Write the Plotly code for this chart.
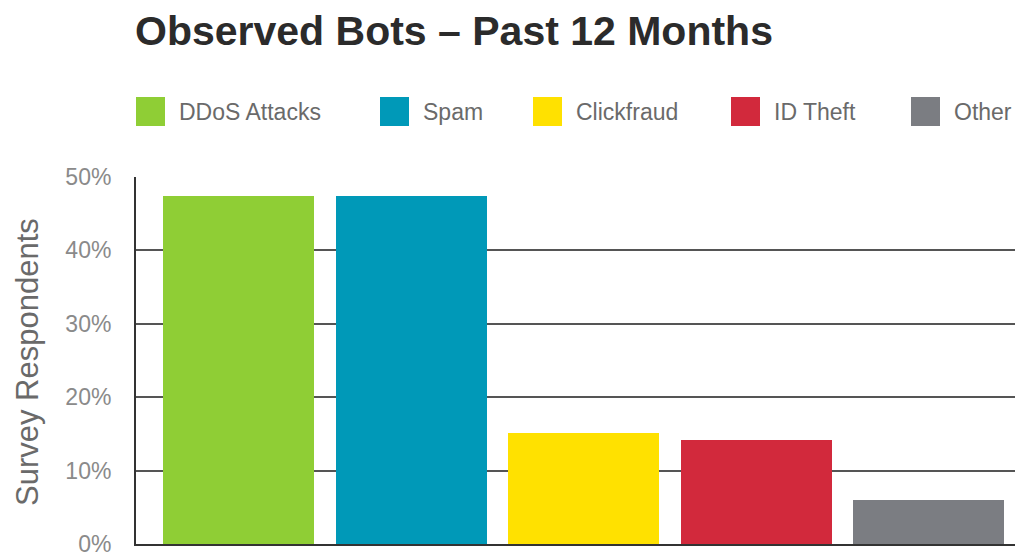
import plotly.graph_objects as go

categories = ["DDoS Attacks", "Spam", "Clickfraud", "ID Theft", "Other"]
values = [47.4, 47.4, 15.1, 14.2, 6.0]
colors = ["#8fce35", "#0099b8", "#ffe100", "#d2293c", "#7b7d82"]
y_ticks = [0, 10, 20, 30, 40, 50]
y_tick_labels = ["0%", "10%", "20%", "30%", "40%", "50%"]

W, H = 1015, 553
ML, MR, MT, MB = 136, 0, 177, 9
PW = W - ML - MR
PH = H - MT - MB


def px_x(px):
    return (px - ML) / PW


def px_y(py):
    return (H - MB - py) / PH


fig = go.Figure()
fig.add_trace(go.Bar(
    x=list(range(len(categories))),
    y=values,
    marker=dict(color=colors, line=dict(width=0)),
    width=0.875,
    showlegend=False,
    hovertext=categories,
))

text_font = "Liberation Sans"

# manual legend (large square swatches)
legend_x = [136, 380, 533, 731, 911]
shapes = []
annotations = []
for i, name in enumerate(categories):
    x0 = legend_x[i]
    shapes.append(dict(type="rect", xref="paper", yref="paper",
                       x0=px_x(x0), x1=px_x(x0 + 29), y0=px_y(126), y1=px_y(97),
                       fillcolor=colors[i], line=dict(width=0)))
    annotations.append(dict(x=px_x(x0 + 41), y=px_y(112), xref="paper", yref="paper",
                            text=name, showarrow=False, xanchor="left", yanchor="middle",
                            font=dict(family=text_font, size=23, color="#6a6a6a")))

annotations.append(dict(x=px_x(133), y=px_y(31), xref="paper", yref="paper",
                        text="<b>Observed Bots – Past 12 Months</b>", showarrow=False,
                        xanchor="left", yanchor="middle",
                        font=dict(family=text_font, size=41, color="#2b2b2b")))

annotations.append(dict(x=px_x(27), y=px_y(362), xref="paper", yref="paper",
                        text="Survey Respondents", showarrow=False, textangle=-90,
                        xanchor="center", yanchor="middle",
                        font=dict(family=text_font, size=31, color="#6a6a6a")))

fig.update_layout(
    width=W, height=H,
    margin=dict(l=ML, r=MR, t=MT, b=MB),
    paper_bgcolor="white", plot_bgcolor="white",
    shapes=shapes, annotations=annotations,
    bargap=0,
    xaxis=dict(range=[-0.594, 4.5], showticklabels=False, showgrid=False,
               zeroline=False, showline=True, linecolor="#333333", linewidth=2,
               ticks="", automargin=False),
    yaxis=dict(range=[0, 50], tickvals=y_ticks, ticktext=y_tick_labels,
               showgrid=True, gridcolor="#555555", gridwidth=1.5,
               zeroline=False, showline=True, linecolor="#333333", linewidth=2,
               ticks="", ticklabelstandoff=18, ticklabeloverflow="allow",
               automargin=False,
               tickfont=dict(family=text_font, size=23, color="#8a8a8a")),
)

fig.write_html(
    "out.html",
    config={"displayModeBar": False},
    post_script="document.body.style.margin='0';document.body.style.overflow='hidden';",
)
